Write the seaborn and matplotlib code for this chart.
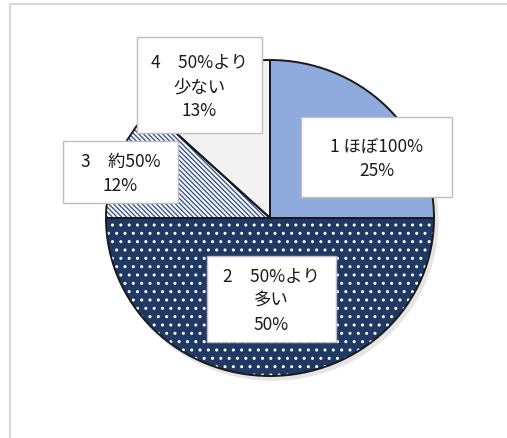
import matplotlib
matplotlib.use("Agg")
import matplotlib.pyplot as plt
import seaborn as sns
from matplotlib.patches import Rectangle, Ellipse

sns.set_theme(style="white")
plt.rcParams['font.family'] = ['Noto Sans CJK JP', 'DejaVu Sans']
plt.rcParams['hatch.linewidth'] = 1.0

# Data
categories = ['1 ほぼ100%', '2　50%より\n多い', '3　約50%', '4　50%より\n少ない']
values = [25, 50, 12, 13]
pct_labels = ['25%', '50%', '12%', '13%']

face_colors = ['#8FAADC', '#203864', '#FFFFFF', '#F2F2F2']
hatch_colors = ['#8FAADC', '#FFFFFF', '#3B5693', '#F2F2F2']
hatches = [None, '..', '\\' * 7, None]

W, H = 507, 439
fig = plt.figure(figsize=(W / 100, H / 100), dpi=100)

# pie geometry in pixels (center x, center y from top, radii)
cx, cy, Rx, Ry = 270, 219, 164, 158
pad = 6
ax = fig.add_axes([(cx - Rx - pad) / W, (H - cy - Ry - pad) / H,
                   (2 * Rx + 2 * pad) / W, (2 * Ry + 2 * pad) / H])

# soft shadow
ax.add_patch(Ellipse((0.018, -0.02), 2.02, 2.02, facecolor='#DADADA', edgecolor='none',
                     alpha=0.7, zorder=0))

wedges, _ = ax.pie(values, startangle=90, counterclock=False, radius=1,
                   colors=face_colors, wedgeprops=dict(linewidth=0))
for w, hc, hp in zip(wedges, hatch_colors, hatches):
    w.set_zorder(1)
    if hp:
        w.set_hatch(hp)
        w.set_edgecolor(hc)
        w.set_linewidth(0)

outline, _ = ax.pie(values, startangle=90, counterclock=False, radius=1,
                    colors=['none'] * len(values),
                    wedgeprops=dict(linewidth=1.4, edgecolor='#1a1a1a'))
for w in outline:
    w.set_zorder(2)

ax.set_xlim(-1 - pad / Rx, 1 + pad / Rx)
ax.set_ylim(-1 - pad / Ry, 1 + pad / Ry)
ax.set_aspect('auto')
ax.axis('off')

# overlay axes in pixel coordinates for the label boxes
ov = fig.add_axes([0, 0, 1, 1], zorder=5)
ov.set_xlim(0, W)
ov.set_ylim(H, 0)
ov.axis('off')
ov.patch.set_alpha(0)

# label boxes (left, top, right, bottom) in pixels
boxes = [(301, 118, 452, 198), (207, 257, 336, 343), (63, 142, 178, 204), (137, 38, 262, 134)]
for cat, pct, (l, t, r, b) in zip(categories, pct_labels, boxes):
    ov.add_patch(Rectangle((l, t), r - l, b - t, facecolor='white', edgecolor='#BFBFBF',
                           linewidth=1.0, zorder=3))
    ov.text((l + r) / 2, (t + b) / 2 + 1, cat + '\n' + pct, ha='center', va='center',
            multialignment='center', fontsize=12.5, color='#1a1a1a', linespacing=1.45, zorder=4)

# chart-area frame (only top and left are visible)
fig.patches.append(Rectangle((9.5 / W, -0.05), 1.2, 1.05 - 4.5 / H, transform=fig.transFigure,
                             fill=False, edgecolor='#D9D9D9', linewidth=1.6, zorder=0))

fig.savefig('out.png', dpi=100, facecolor='white')
